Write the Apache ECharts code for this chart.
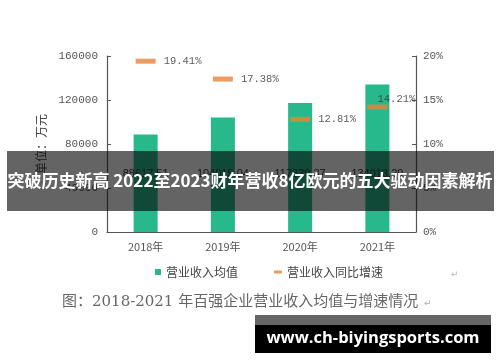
<!DOCTYPE html>
<html>
<head>
<meta charset="utf-8">
<script src="https://cdn.jsdelivr.net/npm/echarts@6/dist/echarts.min.js"></script>
<style>html,body{margin:0;padding:0;background:#fff}#c{width:500px;height:362px}</style>
</head>
<body>
<div id="c"></div>
<script>
const categories = ['2018年', '2019年', '2020年', '2021年'];
const revenueMean = [88617.51, 104015.04, 117339.37, 134013.29];
const growthRate = [19.41, 17.38, 12.81, 14.21];
const leftTicks = [0, 40000, 80000, 120000, 160000];
const rightTicks = ['0%', '5%', '10%', '15%', '20%'];

const monoFont = "'Liberation Mono', 'DejaVu Sans Mono', monospace";
const cjkSans = "'Noto Sans CJK SC', sans-serif";

const chart = echarts.init(document.getElementById('c'), null, {renderer: 'canvas'});
chart.setOption({
  animation: false,
  backgroundColor: '#fff',
  grid: {left: 107, right: 84, top: 56, bottom: 130, containLabel: false},
  legend: [
    {data: ['营业收入均值'], left: 150, top: 261, itemWidth: 6, itemHeight: 6, itemGap: 4,
     icon: 'rect', textStyle: {fontSize: 12, color: '#444', fontFamily: cjkSans}},
    {data: ['营业收入同比增速'], left: 269, top: 261, itemWidth: 8, itemHeight: 3, itemGap: 4,
     icon: 'rect', textStyle: {fontSize: 12, color: '#444', fontFamily: cjkSans}}
  ],
  xAxis: {
    type: 'category', data: categories, boundaryGap: true,
    axisLine: {lineStyle: {color: '#555', width: 1.2}},
    axisTick: {inside: true, length: 4, lineStyle: {color: '#555'}},
    axisLabel: {color: '#555', fontSize: 11, margin: 9, fontFamily: cjkSans}
  },
  yAxis: [
    {type: 'value', min: leftTicks[0], max: leftTicks[leftTicks.length - 1], interval: leftTicks[1] - leftTicks[0],
     name: '单位：万元', nameLocation: 'middle', nameRotate: 90, nameGap: 58,
     nameTextStyle: {fontSize: 12, color: '#444', fontFamily: cjkSans},
     axisLine: {show: true, lineStyle: {color: '#555', width: 1.2}},
     axisTick: {show: true, inside: true, length: 4, lineStyle: {color: '#555'}},
     axisLabel: {color: '#555', fontSize: 11, margin: 9, fontFamily: monoFont,
       formatter: (v) => String(v)},
     splitLine: {show: false}},
    {type: 'value', min: 0, max: 20, interval: 5,
     axisLine: {show: true, lineStyle: {color: '#555', width: 1.2}},
     axisTick: {show: true, inside: true, length: 4, lineStyle: {color: '#555'}},
     axisLabel: {color: '#555', fontSize: 11, margin: 7, fontFamily: monoFont,
       formatter: (v) => rightTicks[Math.round(v / 5)]},
     splitLine: {show: false}}
  ],
  series: [
    {name: '营业收入均值', type: 'bar', data: revenueMean, barWidth: 24,
     itemStyle: {color: '#27B98B'},
     label: {show: true, position: 'insideBottom', distance: 53, color: '#333', fontSize: 11,
       fontFamily: "'Liberation Sans', sans-serif", formatter: (p) => p.value.toFixed(2)}},
    {name: '营业收入同比增速', type: 'scatter', yAxisIndex: 1, symbol: 'rect', symbolSize: [20, 5],
     itemStyle: {color: '#E9853A'},
     data: growthRate.map((v, i) => i === 3
       ? {value: v, label: {position: 'top', distance: 2, offset: [19, 2]}}
       : v),
     label: {show: true, position: 'right', distance: 8, color: '#333', fontSize: 10.5,
       fontFamily: monoFont, formatter: (p) => p.value.toFixed(2) + '%'}}
  ],
  graphic: [
    {type: 'rect', z: 100, shape: {x: 7, y: 151, width: 487, height: 60}, style: {fill: 'rgba(5,5,5,0.62)'}},
    {type: 'text', z: 101, x: 250, y: 181,
     style: {text: '突破历史新高 2022至2023财年营收8亿欧元的五大驱动因素解析', fill: '#fff',
       font: "bold 17px 'Noto Sans CJK SC', sans-serif", textAlign: 'center', textVerticalAlign: 'middle'}},
    {type: 'text', z: 50, x: 62, y: 302,
     style: {text: '图：2018-2021 年百强企业营业收入均值与增速情况', fill: '#666',
       font: "15px 'DejaVu Serif', 'Noto Sans CJK SC', serif", textAlign: 'left', textVerticalAlign: 'middle'}},
    {type: 'text', z: 50, x: 424, y: 304,
     style: {text: '↵', fill: '#aaa', font: "9px 'DejaVu Sans'", textAlign: 'left', textVerticalAlign: 'middle'}},
    {type: 'text', z: 50, x: 451, y: 275,
     style: {text: '↵', fill: '#bbb', font: "9px 'DejaVu Sans'", textAlign: 'left', textVerticalAlign: 'middle'}},
    {type: 'rect', z: 100, shape: {x: 255, y: 315, width: 236, height: 10}, style: {fill: '#666'}},
    {type: 'rect', z: 100, shape: {x: 255, y: 325, width: 236, height: 28}, style: {fill: '#000'}},
    {type: 'text', z: 101, x: 373, y: 338,
     style: {text: 'www.ch-biyingsports.com', fill: '#fff',
       font: "bold 16.5px 'Open Sans', 'DejaVu Sans', sans-serif", textAlign: 'center', textVerticalAlign: 'middle'}}
  ]
});
</script>
</body>
</html>
